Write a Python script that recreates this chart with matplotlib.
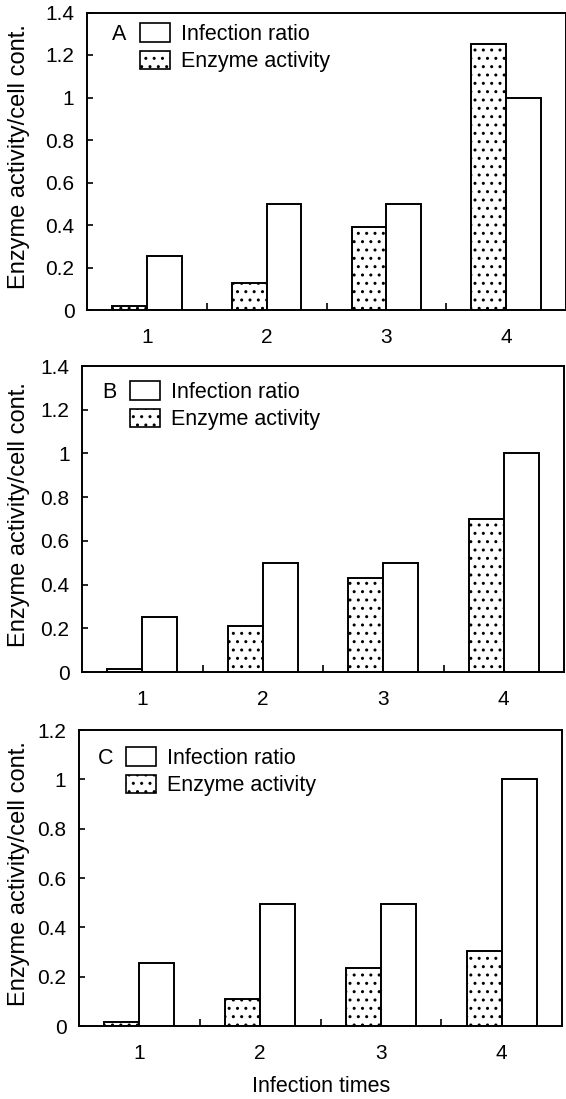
import numpy as np
import matplotlib
matplotlib.use('Agg')
import matplotlib.pyplot as plt
from matplotlib.patches import Patch

plt.rcParams['font.family'] = ['Liberation Sans', 'DejaVu Sans']
plt.rcParams['hatch.linewidth'] = 1.0

# infection times on the x axis
times = [1, 2, 3, 4]

# panel A
enzyme_a = [0.02, 0.125, 0.39, 1.25]
infect_a = [0.255, 0.50, 0.50, 1.00]
# panel B
enzyme_b = [0.015, 0.21, 0.43, 0.70]
infect_b = [0.25, 0.50, 0.50, 1.00]
# panel C
enzyme_c = [0.015, 0.11, 0.235, 0.305]
infect_c = [0.255, 0.495, 0.495, 1.00]

yticks_ab = [0, 0.2, 0.4, 0.6, 0.8, 1, 1.2, 1.4]
yticklabels_ab = ['0', '0.2', '0.4', '0.6', '0.8', '1', '1.2', '1.4']
yticks_c = [0, 0.2, 0.4, 0.6, 0.8, 1, 1.2]
yticklabels_c = ['0', '0.2', '0.4', '0.6', '0.8', '1', '1.2']

W, H = 566, 1099
fig = plt.figure(figsize=(W/100, H/100), dpi=100)


def px_axes(left, top, right, bottom):
    # axes from pixel box (origin at top left of image)
    return fig.add_axes([left/W, 1 - bottom/H, (right-left)/W, (bottom-top)/H])


def panel(ax, enzyme, infect, yticks, yticklabels, letter, leg_x, leg_y):
    x = np.array(times)
    bw = 0.29
    ax.bar(x - bw, enzyme, width=bw, align='edge', facecolor='white',
           edgecolor='black', hatch='..', linewidth=1.4, zorder=2)
    ax.bar(x, infect, width=bw, align='edge', facecolor='white',
           edgecolor='black', linewidth=1.4, zorder=2)

    ax.set_xlim(0.5, 4.5)
    ax.set_ylim(0, yticks[-1])
    ax.set_xticks(times)
    ax.set_xticklabels([str(t) for t in times], fontsize=15)
    ax.set_xticks([1.5, 2.5, 3.5], minor=True)
    ax.tick_params(axis='x', which='major', length=0, pad=13)
    ax.tick_params(axis='x', which='minor', direction='in', length=5, width=1.2)
    ax.set_yticks(yticks)
    ax.set_yticklabels(yticklabels, fontsize=15)
    ax.tick_params(axis='y', direction='in', length=4, width=1.2, pad=9)
    for s in ax.spines.values():
        s.set_linewidth(1.4)

    # label anchor is its right edge (rotated text)
    ax.set_ylabel('Enzyme activity/cell cont.', fontsize=17)
    bb = ax.get_position()
    ax.yaxis.set_label_coords((30/W - bb.x0)/bb.width, 0.515)

    handles = [Patch(facecolor='white', edgecolor='black', linewidth=1.2),
               Patch(facecolor='white', edgecolor='black', linewidth=1.2, hatch='..')]
    ax.legend(handles, ['Infection ratio', 'Enzyme activity'], loc='upper left',
              bbox_to_anchor=(leg_x/W, 1 - leg_y/H), bbox_transform=fig.transFigure,
              frameon=False, fontsize=15.5, handlelength=1.4, handleheight=0.95,
              handletextpad=0.5, labelspacing=0.28, borderpad=0, borderaxespad=0)
    ax.text((leg_x - 28)/W, 1 - (leg_y + 12)/H, letter, transform=fig.transFigure,
            fontsize=15.5, va='center', ha='left')


ax_a = px_axes(87, 12.5, 566, 310)
panel(ax_a, enzyme_a, infect_a, yticks_ab, yticklabels_ab, 'A', 140, 23)

ax_b = px_axes(82, 366, 564, 672)
panel(ax_b, enzyme_b, infect_b, yticks_ab, yticklabels_ab, 'B', 130, 381)

ax_c = px_axes(79, 730, 562, 1026)
panel(ax_c, enzyme_c, infect_c, yticks_c, yticklabels_c, 'C', 126, 747)

fig.text(321/W, 1 - 1086/H, 'Infection times', fontsize=15.5, ha='center', va='center')

fig.savefig('out.png', dpi=100)
